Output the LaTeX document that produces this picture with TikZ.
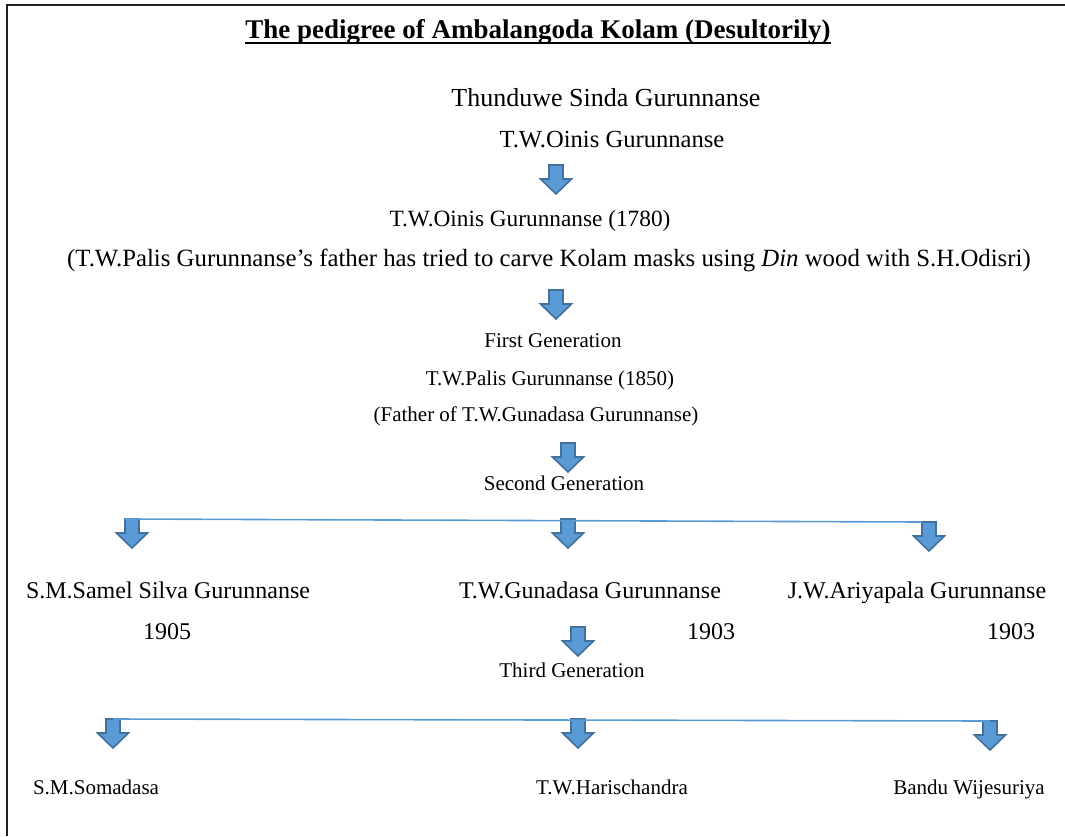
\documentclass[tikz,border=0pt]{standalone}
\usepackage{fontspec}
\setmainfont{Liberation Serif}
\usepackage{xcolor}
\usetikzlibrary{positioning}
\definecolor{ArrFill}{HTML}{5B9BD5}
\definecolor{ArrEdge}{HTML}{41719C}
\definecolor{LineBlue}{HTML}{5B9BD5}
\definecolor{Frame}{HTML}{202020}

\begin{document}
\begin{tikzpicture}[x=1pt,y=-1pt,
    big/.style={anchor=base,inner sep=0pt,font=\fontsize{24}{28}\selectfont},
    small/.style={anchor=base,inner sep=0pt,font=\fontsize{21}{25}\selectfont},
    ttl/.style={anchor=base,inner sep=0pt,font=\fontsize{27}{32}\selectfont\bfseries},
    arrbox/.style={draw=ArrEdge,fill=ArrFill,line width=1.6pt,line join=miter},
    link/.style={draw=LineBlue,line width=1.6pt},
    darrow/.pic={
      \draw[arrbox] (-7,0) coordinate (-nw) -- (7,0) -- (7,14) -- (15.5,14)
        -- (0,29) -- (-15.5,14) -- (-7,14) -- cycle;
      \coordinate (-top) at (0,0);
    }]
  \useasboundingbox (0,0) rectangle (1065,836);
  \draw[Frame,line width=1.5pt] (7,836) -- (7,5) -- (1065,5);

  \node[ttl] (title) at (538,38) {The pedigree of Ambalangoda Kolam (Desultorily)};
  \draw[line width=2pt] ([yshift=-5pt]title.base west) -- ([yshift=-5pt]title.base east);
  \node[big,font=\fontsize{26}{30}\selectfont] (sinda) at (606,106) {Thunduwe Sinda Gurunnanse};
  \node[big,font=\fontsize{24.6}{29}\selectfont] (oinis) at (612,147) {T.W.Oinis Gurunnanse};
  \pic (a1) at (556,165) {darrow};
  \node[big,font=\fontsize{23.3}{28}\selectfont] (oinisy) at (530,226) {T.W.Oinis Gurunnanse (1780)};
  \node[big,font=\fontsize{24.8}{29}\selectfont] (note) at (549,266) {(T.W.Palis Gurunnanse’s father has tried to carve Kolam masks using \textit{Din} wood with S.H.Odisri)};
  \pic (a2) at (556,290) {darrow};
  \node[small] (gen1) at (553,347) {First Generation};
  \node[small] (palis) at (550,385) {T.W.Palis Gurunnanse (1850)};
  \node[small] (father) at (536,421) {(Father of T.W.Gunadasa Gurunnanse)};
  \pic (a3) at (568,443) {darrow};
  \node[small] (gen2) at (564,490) {Second Generation};

  \pic (b1) at (132,519) {darrow};
  \pic (b2) at (568,519) {darrow};
  \pic (b3) at (929,522) {darrow};
  \draw[link] (b1-nw) -- (b3-nw);

  \node[big] (samel) at (168,598) {S.M.Samel Silva Gurunnanse};
  \node[big] (gunadasa) at (590,598) {T.W.Gunadasa Gurunnanse};
  \node[big] (ariya) at (917,598) {J.W.Ariyapala Gurunnanse};
  \node[big] (ysamel) at (167,639) {1905};
  \node[big] (ygunadasa) at (711,639) {1903};
  \node[big] (yariya) at (1011,639) {1903};
  \pic (a4) at (578,627) {darrow};
  \node[small] (gen3) at (572,677) {Third Generation};

  \pic (c1) at (113,719) {darrow};
  \pic (c2) at (578,719) {darrow};
  \pic (c3) at (990,721) {darrow};
  \draw[link] (c1-top) -- (c3-top);

  \node[small] (soma) at (96,794) {S.M.Somadasa};
  \node[small] (haris) at (612,794) {T.W.Harischandra};
  \node[small] (bandu) at (969,794) {Bandu Wijesuriya};
\end{tikzpicture}
\end{document}
